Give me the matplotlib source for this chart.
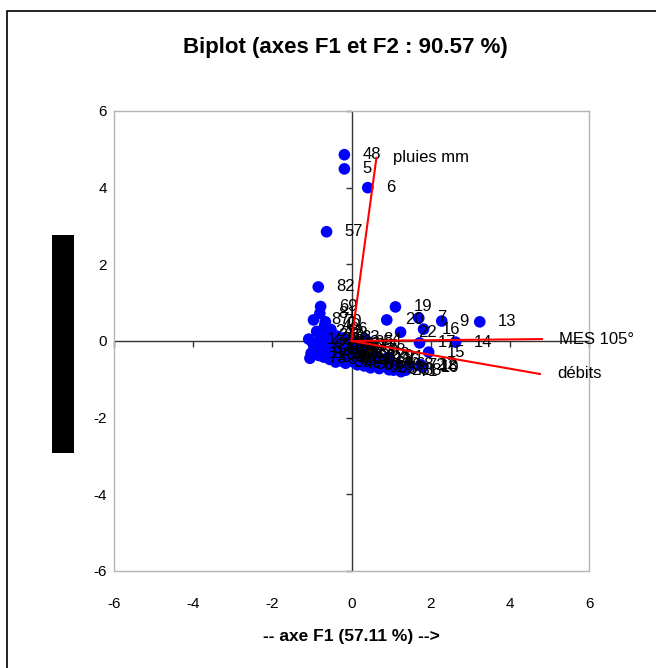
import matplotlib
matplotlib.use("Agg")
import matplotlib.pyplot as plt
from matplotlib.patches import Rectangle
import numpy as np

plt.rcParams['font.family'] = ['Liberation Sans', 'DejaVu Sans']

# Observations: labels and coordinates on F1 / F2
obs_labels = ["48", "5", "6", "57", "82", "69", "81", "87", "70", "40",
              "19", "20", "7", "9", "13", "16", "22", "84", "14", "17",
              "15", "12", "18", "10", "21", "23", "38", "2", "3", "42",
              "1", "4", "8", "11", "24", "25", "26", "27", "28", "29",
              "30", "31", "32", "33", "34", "35", "36", "37", "39", "41",
              "43", "44", "45", "46", "47", "49", "50", "51", "52", "53",
              "54", "55", "56", "58", "59", "60", "61", "62", "63", "64",
              "65", "66", "67", "68", "71", "72", "73", "74", "75", "76",
              "77", "78", "79", "80", "83", "85", "86"]
obs_f1 = [-0.18, -0.18, 0.41, -0.63, -0.84, -0.78, -0.80, -0.96, -0.66, -0.68,
          1.11, 0.89, 1.70, 2.28, 3.24, 1.82, 1.24, 0.35, 2.63, 1.72,
          1.95, 1.75, 1.77, 1.80, 0.91, 1.06, 1.37, 0.00, -0.38, -0.78,
          -1.08, -0.98, -0.95, -1.02, -0.88, -0.85, -0.82, -0.80, -0.75, -0.72,
          -0.70, -0.65, -0.62, -0.60, -0.55, -0.50, -0.48, -0.45, -0.40, -0.38,
          -0.30, -0.28, -0.25, -0.20, -0.18, -0.15, -0.12, -0.08, -0.05, 0.00,
          0.05, 0.10, 0.15, 0.20, 0.28, 0.32, 0.40, 0.48, 0.55, 0.62,
          0.70, 0.80, 0.95, 1.15, 1.25, 1.45, -1.05, -0.58, -0.35, -0.10,
          0.25, 0.45, 0.65, 0.85, -0.22, 0.12, -0.52]
obs_f2 = [4.86, 4.49, 4.00, 2.85, 1.41, 0.90, 0.72, 0.55, 0.50, 0.40,
          0.89, 0.55, 0.60, 0.52, 0.50, 0.31, 0.23, 0.05, -0.03, -0.05,
          -0.29, -0.62, -0.66, -0.68, -0.44, -0.76, -0.76, -0.05, 0.13, 0.03,
          0.05, -0.05, -0.20, -0.32, 0.25, -0.10, -0.38, 0.15, -0.25, 0.05,
          -0.42, -0.15, 0.22, -0.35, -0.48, -0.20, 0.05, -0.35, -0.55, -0.15,
          -0.40, -0.25, -0.52, -0.10, -0.35, -0.58, -0.22, -0.45, -0.12, -0.30,
          -0.55, -0.20, -0.62, -0.40, -0.28, -0.65, -0.48, -0.70, -0.35, -0.58,
          -0.72, -0.50, -0.75, -0.62, -0.80, -0.65, -0.45, -0.05, -0.30, -0.35,
          -0.15, -0.25, -0.40, -0.65, 0.08, -0.05, 0.30]

# Variables: loading vectors (scaled) on F1 / F2
var_names = ["pluies mm", "MES 105°", "débits"]
var_f1 = [0.63, 4.81, 4.76]
var_f2 = [4.78, 0.05, -0.86]

ticks = [-6, -4, -2, 0, 2, 4, 6]
title = "Biplot (axes F1 et F2 : 90.57 %)"
xlabel = "-- axe F1 (57.11 %) -->"
ylabel = "-- axe F2 (33.46 %) -->"

W, H = 656, 668
fig = plt.figure(figsize=(W / 100, H / 100), dpi=100)

# outer chart border
fig.patches.append(Rectangle((7 / W, -0.2), 1.5, 1 - 11 / H + 0.2,
                             transform=fig.transFigure, fill=False,
                             edgecolor="black", linewidth=1.2))

ax = fig.add_axes([114 / W, 1 - 571 / H, (589 - 114) / W, (571 - 111) / H])
ax.set_xlim(-6, 6)
ax.set_ylim(-6, 6)
ax.set_xticks(ticks)
ax.set_yticks(ticks)
ax.set_xticklabels([str(t) for t in ticks])
ax.set_yticklabels([str(t) for t in ticks])
ax.tick_params(length=0, labelsize=11, colors="black")
ax.tick_params(axis="x", pad=19)
ax.tick_params(axis="y", pad=5)
for sp in ax.spines.values():
    sp.set_color("#b4b4b4")
    sp.set_linewidth(1.0)

# axes through the origin with small tick marks
ax.axhline(0, color="#333333", lw=1.0, zorder=1)
ax.axvline(0, color="#333333", lw=1.0, zorder=1)
tick_arr = np.array(ticks, dtype=float)
ax.plot(tick_arr, np.zeros_like(tick_arr), linestyle="none", marker=3,
        markersize=4, color="#333333", markeredgewidth=1.0, zorder=1, clip_on=False)
ax.plot(np.zeros_like(tick_arr), tick_arr, linestyle="none", marker=0,
        markersize=4, color="#333333", markeredgewidth=1.0, zorder=1, clip_on=False)

# observations
ax.scatter(obs_f1, obs_f2, s=70, color="#0000ff", edgecolors="none", zorder=2)
for lab, x, y in zip(obs_labels, obs_f1, obs_f2):
    ax.annotate(lab, (x, y), xytext=(18, 0), textcoords="offset pixels",
                ha="left", va="center", fontsize=12, color="black", zorder=3)

# variable vectors
for name, x, y in zip(var_names, var_f1, var_f2):
    ax.plot([0, x], [0, y], color="#ff0000", lw=1.5, zorder=4)
    ax.annotate(name, (x, y), xytext=(17, 0), textcoords="offset pixels",
                ha="left", va="center", fontsize=12, color="black",
                zorder=5, annotation_clip=False)

fig.text(345 / W, 1 - 47 / H, title, ha="center", va="center",
         fontsize=16, fontweight="bold")
fig.text(351 / W, 1 - 636 / H, xlabel, ha="center", va="center",
         fontsize=12.5, fontweight="bold")

# vertical axis title (rendered as a solid block)
fig.patches.append(Rectangle((52 / W, 1 - 453 / H), 22 / W, 218 / H,
                             transform=fig.transFigure, facecolor="black",
                             edgecolor="none"))
fig.text(63 / W, 1 - 344 / H, ylabel, ha="center", va="center", rotation=90,
         fontsize=12.5, fontweight="bold", color="black")

fig.savefig("out.png", dpi=100)
